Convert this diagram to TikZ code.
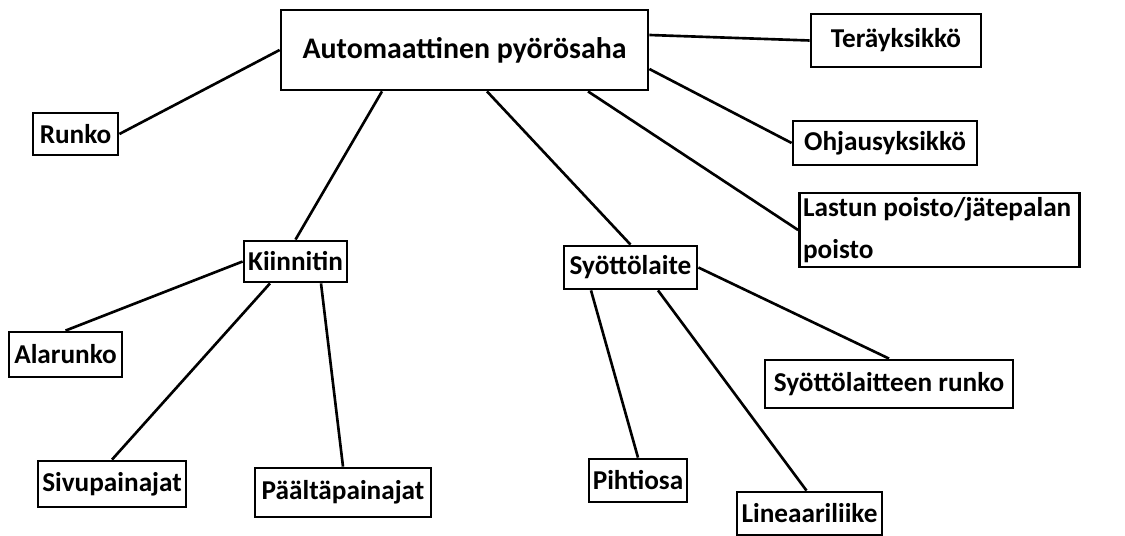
\documentclass[tikz,border=0pt]{standalone}
\usepackage{fontspec}
\setmainfont{Carlito}
\usepackage{tikz}
\usetikzlibrary{calc}
\newcommand{\lbl}{\fontsize{15.5}{24}\selectfont\bfseries}

\begin{document}
\begin{tikzpicture}[x=0.02cm,y=-0.02cm,
    part/.style={draw,line width=1.6pt,inner xsep=2pt,inner ysep=0pt,font=\lbl},
    link/.style={line width=1.5pt}]
  \useasboundingbox (0,0) rectangle (1125,536);
  % main machine
  \node[part,minimum width=7.34cm,minimum height=1.6cm,font=\fontsize{17}{20}\selectfont\bfseries] (saha) at (464.5,50) {Automaattinen pyörösaha};
  % first level
  \node[part,minimum width=3.4cm,minimum height=1.06cm] (tera) at (896,40.5) {Teräyksikkö};
  \node[part,minimum width=3.68cm,minimum height=0.88cm] (ohjaus) at (885,143) {Ohjausyksikkö};
  \node[part,text width=5.46cm,align=flush left,minimum height=1.48cm] (lastu) at (939.5,230) {Lastun poisto/jätepalan\\poisto};
  \node[part,minimum width=1.7cm,minimum height=0.84cm] (runko) at (75.5,134) {Runko};
  \node[part,minimum width=2.06cm,minimum height=0.82cm] (kiin) at (295.5,261.5) {Kiinnitin};
  \node[part,minimum width=2.66cm,minimum height=0.86cm] (syotto) at (630.5,267.5) {Syöttölaite};
  % clamp parts
  \node[part,minimum width=2.26cm,minimum height=0.9cm] (alarunko) at (65.5,354.5) {Alarunko};
  \node[part,minimum width=2.96cm,minimum height=0.92cm] (sivu) at (112,484) {Sivupainajat};
  \node[part,minimum width=3.52cm,minimum height=0.98cm] (paalta) at (343,492.5) {Päältäpainajat};
  % feeder parts
  \node[part,minimum width=1.96cm,minimum height=0.86cm] (pihti) at (638,480.5) {Pihtiosa};
  \node[part,minimum width=2.9cm,minimum height=0.86cm] (lineaari) at (809.5,513.5) {Lineaariliike};
  \node[part,minimum width=4.96cm,minimum height=0.96cm] (srunko) at (889,384) {Syöttölaitteen runko};
  % connectors
  \draw[link] (saha.west) -- (runko.east);
  \draw[link] ($(saha.east)+(0,-15)$) -- (tera.west);
  \draw[link] ($(saha.east)+(0,19)$) -- (ohjaus.west);
  \draw[link] ($(saha.south)+(123.5,0)$) -- (lastu.west);
  \draw[link] ($(saha.south)+(-82.5,0)$) -- (kiin.north);
  \draw[link] ($(saha.south)+(22.5,0)$) -- (syotto.north);
  \draw[link] (kiin.west) -- (alarunko.north);
  \draw[link] ($(kiin.south)+(-25.5,0)$) -- (sivu.north);
  \draw[link] ($(kiin.south)+(25.5,0)$) -- (paalta.north);
  \draw[link] ($(syotto.south)+(-39.5,0)$) -- (pihti.north);
  \draw[link] ($(syotto.south)+(27.5,0)$) -- ($(lineaari.north)+(-3,0)$);
  \draw[link] (syotto.east) -- (srunko.north);
\end{tikzpicture}
\end{document}
